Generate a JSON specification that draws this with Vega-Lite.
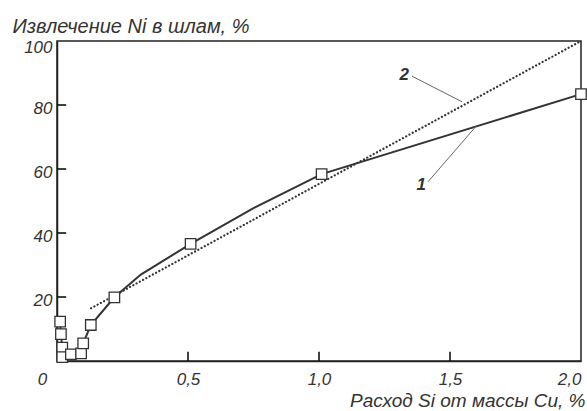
{
  "$schema": "https://vega.github.io/schema/vega-lite/v6.json",
  "width": 524,
  "height": 320,
  "autosize": "none",
  "padding": {"left": 57, "top": 41, "right": 6, "bottom": 50},
  "background": "white",
  "config": {
    "view": {"stroke": "#222", "strokeWidth": 1.5},
    "font": "Liberation Sans",
    "axis": {
      "domainColor": "#222", "domainWidth": 1.5,
      "ticks": false,
      "grid": false,
      "labelFont": "Liberation Sans", "labelFontStyle": "italic", "labelFontSize": 17, "labelColor": "#333",
      "titleFont": "Liberation Sans", "titleFontStyle": "italic", "titleFontWeight": "normal", "titleFontSize": 19, "titleColor": "#333",
      "labelFlush": false
    }
  },
  "datasets": {
    "curve1": [
      {"o": 1, "x": 0.012, "y": 12.3, "m": true},
      {"o": 2, "x": 0.015, "y": 8.4, "m": true},
      {"o": 3, "x": 0.02, "y": 4.2, "m": true},
      {"o": 4, "x": 0.02, "y": 1.2, "m": true},
      {"o": 5, "x": 0.053, "y": 2.1, "m": true},
      {"o": 6, "x": 0.092, "y": 2.4, "m": true},
      {"o": 7, "x": 0.1, "y": 5.5, "m": true},
      {"o": 8, "x": 0.129, "y": 11.25, "m": true},
      {"o": 9, "x": 0.219, "y": 19.9, "m": true},
      {"o": 10, "x": 0.32, "y": 27, "m": false},
      {"o": 11, "x": 0.51, "y": 36.6, "m": true},
      {"o": 12, "x": 0.75, "y": 47.8, "m": false},
      {"o": 13, "x": 1.01, "y": 58.4, "m": true},
      {"o": 14, "x": 2.0, "y": 83.4, "m": true}
    ],
    "curve2": [
      {"x": 0.13, "y": 16.5},
      {"x": 2.0, "y": 100}
    ],
    "leaders": [
      {"x": 1.355, "y": 89, "x2": 1.546, "y2": 81},
      {"x": 1.416, "y": 56, "x2": 1.603, "y2": 73.7}
    ],
    "labels": [
      {"x": 1.325, "y": 89.5, "t": "2"},
      {"x": 1.39, "y": 55, "t": "1"}
    ],
    "xticks": [
      {"tx": 0.5, "ty": 0, "ty2": 2.9},
      {"tx": 1.0, "ty": 0, "ty2": 2.9},
      {"tx": 1.5, "ty": 0, "ty2": 2.9}
    ],
    "yticks": [
      {"tx": 0, "tx2": 0.035, "ty": 20},
      {"tx": 0, "tx2": 0.035, "ty": 40},
      {"tx": 0, "tx2": 0.035, "ty": 60},
      {"tx": 0, "tx2": 0.035, "ty": 80}
    ]
  },
  "layer": [
    {
      "data": {"name": "curve2"},
      "mark": {"type": "line", "color": "#333", "strokeWidth": 2.2, "strokeDash": [0.1, 3.6], "strokeCap": "round"},
      "encoding": {
        "x": {"field": "x", "type": "quantitative",
          "scale": {"domain": [0, 2], "nice": false, "zero": false},
          "axis": {
            "values": [0, 0.5, 1, 1.5, 2],
            "format": ".1f",
            "labelExpr": "datum.value == 0 ? '0' : replace(datum.label, '.', ',')",
            "labelPadding": 10,
            "labelBaseline": "top",
            "labelAlign": {"condition": {"test": "datum.value == 2", "value": "right"}, "value": "center"},
            "labelOffset": {"condition": {"test": "datum.value == 0", "value": -15}, "value": 0},
            "title": "Расход Si от массы Cu, %",
            "titleAlign": "right", "titleX": 528, "titleY": 45, "titleBaseline": "alphabetic"
          }
        },
        "y": {"field": "y", "type": "quantitative",
          "scale": {"domain": [0, 100], "nice": false},
          "axis": {
            "values": [20, 40, 60, 80, 100],
            "labelPadding": 5,
            "labelBaseline": "middle",
            "labelOffset": {"condition": {"test": "datum.value == 100", "value": 6}, "value": 3},
            "title": "Извлечение Ni в шлам, %",
            "titleFontSize": 20,
            "titleAngle": 0, "titleAlign": "left", "titleBaseline": "alphabetic",
            "titleX": -45, "titleY": -9
          }
        }
      }
    },
    {
      "data": {"name": "xticks"},
      "mark": {"type": "rule", "color": "#111", "strokeWidth": 1.6},
      "encoding": {
        "x": {"field": "tx", "type": "quantitative"},
        "y": {"field": "ty", "type": "quantitative"},
        "y2": {"field": "ty2"}
      }
    },
    {
      "data": {"name": "yticks"},
      "mark": {"type": "rule", "color": "#111", "strokeWidth": 1.6},
      "encoding": {
        "x": {"field": "tx", "type": "quantitative"},
        "x2": {"field": "tx2"},
        "y": {"field": "ty", "type": "quantitative"}
      }
    },
    {
      "data": {"name": "curve1"},
      "mark": {"type": "line", "color": "#333", "strokeWidth": 2},
      "encoding": {
        "x": {"field": "x", "type": "quantitative"},
        "y": {"field": "y", "type": "quantitative"},
        "order": {"field": "o", "type": "quantitative"}
      }
    },
    {
      "data": {"name": "curve1"},
      "transform": [{"filter": "datum.m"}],
      "mark": {"type": "point", "shape": "square", "size": 110, "filled": true, "fill": "white", "stroke": "#333", "strokeWidth": 1.3, "opacity": 1},
      "encoding": {
        "x": {"field": "x", "type": "quantitative"},
        "y": {"field": "y", "type": "quantitative"}
      }
    },
    {
      "data": {"name": "leaders"},
      "mark": {"type": "rule", "color": "#666", "strokeWidth": 1},
      "encoding": {
        "x": {"field": "x", "type": "quantitative"},
        "y": {"field": "y", "type": "quantitative"},
        "x2": {"field": "x2"},
        "y2": {"field": "y2"}
      }
    },
    {
      "data": {"name": "labels"},
      "mark": {"type": "text", "font": "Liberation Sans", "fontStyle": "italic", "fontWeight": "bold", "fontSize": 17, "color": "#333"},
      "encoding": {
        "x": {"field": "x", "type": "quantitative"},
        "y": {"field": "y", "type": "quantitative"},
        "text": {"field": "t"}
      }
    }
  ]
}
